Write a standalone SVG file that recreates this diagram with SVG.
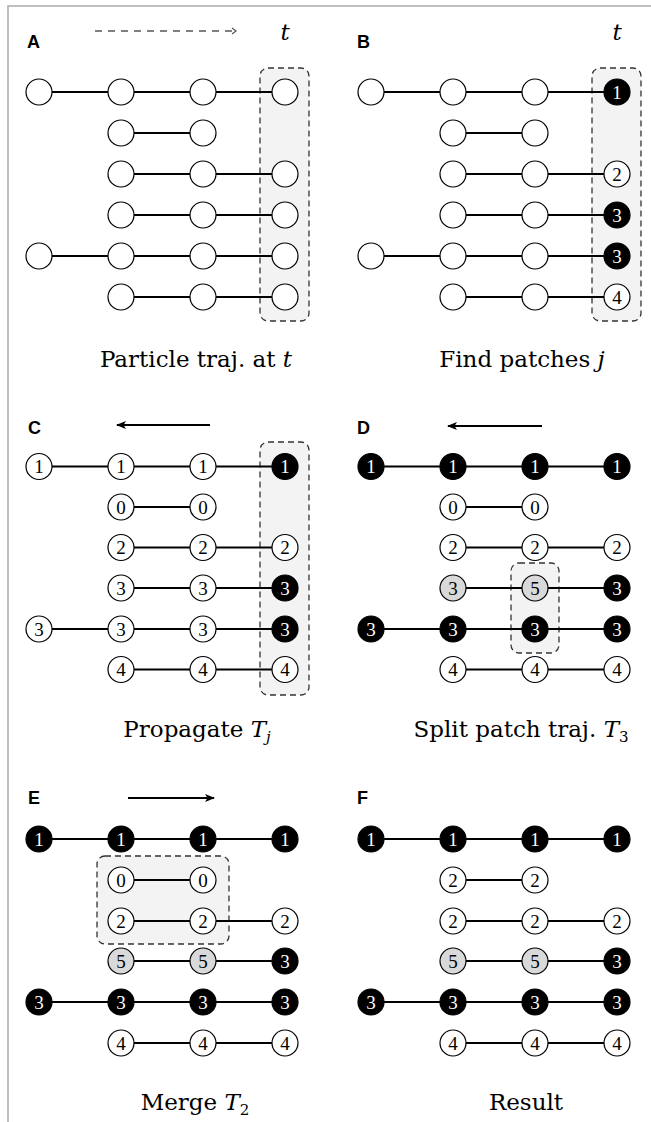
<svg xmlns="http://www.w3.org/2000/svg" width="651" height="1122" viewBox="0 0 651 1122">
  <style>
    .frame { fill: none; stroke: #aaaaaa; stroke-width: 1.5; }
    .panel-label { font-family: "Liberation Sans", Arial, sans-serif; font-weight: bold; font-size: 18px; fill: #000; }
    .caption { font-family: "DejaVu Serif", "Liberation Serif", serif; font-size: 23px; fill: #000; text-anchor: middle; }
    .math { font-style: italic; }
    .sub { font-size: 15px; }
    .hl { fill: #f3f3f3; stroke: #333; stroke-width: 1.3; stroke-dasharray: 6 4; }
    .edge { stroke: #000; stroke-width: 2; }
    .arrow { stroke: #000; stroke-width: 2; fill: none; }
    .time { stroke: #555; stroke-width: 1.5; stroke-dasharray: 7 6; fill: none; }
    .n circle { fill: #fff; stroke: #000; stroke-width: 1.2; }
    .n text { font-family: "Liberation Serif", "Times New Roman", serif; font-size: 19px; text-anchor: middle; fill: #000; }
    .b circle { fill: #000; }
    .b text { fill: #fff; }
    .g circle { fill: #d9d9d9; }
  </style>
  <defs>
    <marker id="head" viewBox="0 0 10 8" refX="9" refY="4" markerWidth="10" markerHeight="8" markerUnits="userSpaceOnUse" orient="auto">
      <path d="M0,0 L10,4 L0,8 L2.5,4 z" fill="#000"/>
    </marker>
    <marker id="chevron" viewBox="0 0 6 8" refX="5" refY="4" markerWidth="6" markerHeight="8" markerUnits="userSpaceOnUse" orient="auto">
      <path d="M1,1 L5,4 L1,7" fill="none" stroke="#555" stroke-width="1.2" stroke-dasharray="none"/>
    </marker>
  </defs>

  <path class="frame" d="M8,1122 V6 H651"/>

  <!-- panel letters -->
  <text class="panel-label" x="27" y="48">A</text>
  <text class="panel-label" x="357" y="48">B</text>
  <text class="panel-label" x="28" y="434">C</text>
  <text class="panel-label" x="357" y="434">D</text>
  <text class="panel-label" x="28" y="804">E</text>
  <text class="panel-label" x="357" y="804">F</text>

  <!-- time axis marks -->
  <text class="caption math" x="285" y="40" font-size="24">t</text>
  <text class="caption math" x="617" y="40" font-size="24">t</text>

  <!-- highlighted patches -->
  <g id="highlights">
    <rect class="hl" x="260" y="68" width="49" height="253" rx="8"/>
    <rect class="hl" x="592" y="68" width="49" height="253" rx="8"/>
    <rect class="hl" x="260" y="442" width="49" height="253" rx="8"/>
    <rect class="hl" x="511" y="563" width="48" height="90" rx="8"/>
    <rect class="hl" x="97" y="856" width="132" height="88" rx="8"/>
  </g>

  <!-- connectors -->
  <g id="connectors">
    <line class="time" x1="95" y1="31" x2="236" y2="31" marker-end="url(#chevron)"/>
    <line class="arrow" x1="210" y1="425" x2="117" y2="425" marker-end="url(#head)"/>
    <line class="arrow" x1="542" y1="426" x2="448" y2="426" marker-end="url(#head)"/>
    <line class="arrow" x1="128" y1="798" x2="214" y2="798" marker-end="url(#head)"/>

    <!-- A -->
    <line class="edge" x1="52" y1="92" x2="108" y2="92"/>
    <line class="edge" x1="134" y1="92" x2="190" y2="92"/>
    <line class="edge" x1="216" y1="92" x2="272" y2="92"/>
    <line class="edge" x1="134" y1="133" x2="190" y2="133"/>
    <line class="edge" x1="134" y1="174" x2="190" y2="174"/>
    <line class="edge" x1="216" y1="174" x2="272" y2="174"/>
    <line class="edge" x1="134" y1="215" x2="190" y2="215"/>
    <line class="edge" x1="216" y1="215" x2="272" y2="215"/>
    <line class="edge" x1="52" y1="256" x2="108" y2="256"/>
    <line class="edge" x1="134" y1="256" x2="190" y2="256"/>
    <line class="edge" x1="216" y1="256" x2="272" y2="256"/>
    <line class="edge" x1="134" y1="297" x2="190" y2="297"/>
    <line class="edge" x1="216" y1="297" x2="272" y2="297"/>
    <!-- B -->
    <line class="edge" x1="384" y1="92" x2="440" y2="92"/>
    <line class="edge" x1="466" y1="92" x2="522" y2="92"/>
    <line class="edge" x1="548" y1="92" x2="604" y2="92"/>
    <line class="edge" x1="466" y1="133" x2="522" y2="133"/>
    <line class="edge" x1="466" y1="174" x2="522" y2="174"/>
    <line class="edge" x1="548" y1="174" x2="604" y2="174"/>
    <line class="edge" x1="466" y1="215" x2="522" y2="215"/>
    <line class="edge" x1="548" y1="215" x2="604" y2="215"/>
    <line class="edge" x1="384" y1="256" x2="440" y2="256"/>
    <line class="edge" x1="466" y1="256" x2="522" y2="256"/>
    <line class="edge" x1="548" y1="256" x2="604" y2="256"/>
    <line class="edge" x1="466" y1="297" x2="522" y2="297"/>
    <line class="edge" x1="548" y1="297" x2="604" y2="297"/>
    <!-- C -->
    <line class="edge" x1="52" y1="466.5" x2="108" y2="466.5"/>
    <line class="edge" x1="134" y1="466.5" x2="190" y2="466.5"/>
    <line class="edge" x1="216" y1="466.5" x2="272" y2="466.5"/>
    <line class="edge" x1="134" y1="507" x2="190" y2="507"/>
    <line class="edge" x1="134" y1="547.5" x2="190" y2="547.5"/>
    <line class="edge" x1="216" y1="547.5" x2="272" y2="547.5"/>
    <line class="edge" x1="134" y1="588" x2="190" y2="588"/>
    <line class="edge" x1="216" y1="588" x2="272" y2="588"/>
    <line class="edge" x1="52" y1="629" x2="108" y2="629"/>
    <line class="edge" x1="134" y1="629" x2="190" y2="629"/>
    <line class="edge" x1="216" y1="629" x2="272" y2="629"/>
    <line class="edge" x1="134" y1="669.5" x2="190" y2="669.5"/>
    <line class="edge" x1="216" y1="669.5" x2="272" y2="669.5"/>
    <!-- D -->
    <line class="edge" x1="384" y1="466.5" x2="440" y2="466.5"/>
    <line class="edge" x1="466" y1="466.5" x2="522" y2="466.5"/>
    <line class="edge" x1="548" y1="466.5" x2="604" y2="466.5"/>
    <line class="edge" x1="466" y1="507" x2="522" y2="507"/>
    <line class="edge" x1="466" y1="547.5" x2="522" y2="547.5"/>
    <line class="edge" x1="548" y1="547.5" x2="604" y2="547.5"/>
    <line class="edge" x1="466" y1="588" x2="522" y2="588"/>
    <line class="edge" x1="548" y1="588" x2="604" y2="588"/>
    <line class="edge" x1="384" y1="629" x2="440" y2="629"/>
    <line class="edge" x1="466" y1="629" x2="522" y2="629"/>
    <line class="edge" x1="548" y1="629" x2="604" y2="629"/>
    <line class="edge" x1="466" y1="669.5" x2="522" y2="669.5"/>
    <line class="edge" x1="548" y1="669.5" x2="604" y2="669.5"/>
    <!-- E -->
    <line class="edge" x1="52" y1="839" x2="108" y2="839"/>
    <line class="edge" x1="134" y1="839" x2="190" y2="839"/>
    <line class="edge" x1="216" y1="839" x2="272" y2="839"/>
    <line class="edge" x1="134" y1="880" x2="190" y2="880"/>
    <line class="edge" x1="134" y1="921" x2="190" y2="921"/>
    <line class="edge" x1="216" y1="921" x2="272" y2="921"/>
    <line class="edge" x1="134" y1="961" x2="190" y2="961"/>
    <line class="edge" x1="216" y1="961" x2="272" y2="961"/>
    <line class="edge" x1="52" y1="1002" x2="108" y2="1002"/>
    <line class="edge" x1="134" y1="1002" x2="190" y2="1002"/>
    <line class="edge" x1="216" y1="1002" x2="272" y2="1002"/>
    <line class="edge" x1="134" y1="1043" x2="190" y2="1043"/>
    <line class="edge" x1="216" y1="1043" x2="272" y2="1043"/>
    <!-- F -->
    <line class="edge" x1="384" y1="839" x2="440" y2="839"/>
    <line class="edge" x1="466" y1="839" x2="522" y2="839"/>
    <line class="edge" x1="548" y1="839" x2="604" y2="839"/>
    <line class="edge" x1="466" y1="880" x2="522" y2="880"/>
    <line class="edge" x1="466" y1="921" x2="522" y2="921"/>
    <line class="edge" x1="548" y1="921" x2="604" y2="921"/>
    <line class="edge" x1="466" y1="961" x2="522" y2="961"/>
    <line class="edge" x1="548" y1="961" x2="604" y2="961"/>
    <line class="edge" x1="384" y1="1002" x2="440" y2="1002"/>
    <line class="edge" x1="466" y1="1002" x2="522" y2="1002"/>
    <line class="edge" x1="548" y1="1002" x2="604" y2="1002"/>
    <line class="edge" x1="466" y1="1043" x2="522" y2="1043"/>
    <line class="edge" x1="548" y1="1043" x2="604" y2="1043"/>
  </g>

  <!-- A: particle trajectories -->
  <g id="panel-A">
    <g id="A-r0-c0" class="n"><circle cx="39" cy="92" r="13"/></g>
    <g id="A-r0-c1" class="n"><circle cx="121" cy="92" r="13"/></g>
    <g id="A-r0-c2" class="n"><circle cx="203" cy="92" r="13"/></g>
    <g id="A-r0-c3" class="n"><circle cx="285" cy="92" r="13"/></g>
    <g id="A-r1-c1" class="n"><circle cx="121" cy="133" r="13"/></g>
    <g id="A-r1-c2" class="n"><circle cx="203" cy="133" r="13"/></g>
    <g id="A-r2-c1" class="n"><circle cx="121" cy="174" r="13"/></g>
    <g id="A-r2-c2" class="n"><circle cx="203" cy="174" r="13"/></g>
    <g id="A-r2-c3" class="n"><circle cx="285" cy="174" r="13"/></g>
    <g id="A-r3-c1" class="n"><circle cx="121" cy="215" r="13"/></g>
    <g id="A-r3-c2" class="n"><circle cx="203" cy="215" r="13"/></g>
    <g id="A-r3-c3" class="n"><circle cx="285" cy="215" r="13"/></g>
    <g id="A-r4-c0" class="n"><circle cx="39" cy="256" r="13"/></g>
    <g id="A-r4-c1" class="n"><circle cx="121" cy="256" r="13"/></g>
    <g id="A-r4-c2" class="n"><circle cx="203" cy="256" r="13"/></g>
    <g id="A-r4-c3" class="n"><circle cx="285" cy="256" r="13"/></g>
    <g id="A-r5-c1" class="n"><circle cx="121" cy="297" r="13"/></g>
    <g id="A-r5-c2" class="n"><circle cx="203" cy="297" r="13"/></g>
    <g id="A-r5-c3" class="n"><circle cx="285" cy="297" r="13"/></g>
  </g>

  <!-- B: patches at time t -->
  <g id="panel-B">
    <g id="B-r0-c0" class="n"><circle cx="371" cy="92" r="13"/></g>
    <g id="B-r0-c1" class="n"><circle cx="453" cy="92" r="13"/></g>
    <g id="B-r0-c2" class="n"><circle cx="535" cy="92" r="13"/></g>
    <g id="B-r0-c3" class="n b"><circle cx="617" cy="92" r="13"/><text x="617" y="98.5">1</text></g>
    <g id="B-r1-c1" class="n"><circle cx="453" cy="133" r="13"/></g>
    <g id="B-r1-c2" class="n"><circle cx="535" cy="133" r="13"/></g>
    <g id="B-r2-c1" class="n"><circle cx="453" cy="174" r="13"/></g>
    <g id="B-r2-c2" class="n"><circle cx="535" cy="174" r="13"/></g>
    <g id="B-r2-c3" class="n"><circle cx="617" cy="174" r="13"/><text x="617" y="180.5">2</text></g>
    <g id="B-r3-c1" class="n"><circle cx="453" cy="215" r="13"/></g>
    <g id="B-r3-c2" class="n"><circle cx="535" cy="215" r="13"/></g>
    <g id="B-r3-c3" class="n b"><circle cx="617" cy="215" r="13"/><text x="617" y="221.5">3</text></g>
    <g id="B-r4-c0" class="n"><circle cx="371" cy="256" r="13"/></g>
    <g id="B-r4-c1" class="n"><circle cx="453" cy="256" r="13"/></g>
    <g id="B-r4-c2" class="n"><circle cx="535" cy="256" r="13"/></g>
    <g id="B-r4-c3" class="n b"><circle cx="617" cy="256" r="13"/><text x="617" y="262.5">3</text></g>
    <g id="B-r5-c1" class="n"><circle cx="453" cy="297" r="13"/></g>
    <g id="B-r5-c2" class="n"><circle cx="535" cy="297" r="13"/></g>
    <g id="B-r5-c3" class="n"><circle cx="617" cy="297" r="13"/><text x="617" y="303.5">4</text></g>
  </g>

  <!-- C: propagate patch labels backwards -->
  <g id="panel-C">
    <g id="C-r0-c0" class="n"><circle cx="39" cy="466.5" r="13"/><text x="39" y="473">1</text></g>
    <g id="C-r0-c1" class="n"><circle cx="121" cy="466.5" r="13"/><text x="121" y="473">1</text></g>
    <g id="C-r0-c2" class="n"><circle cx="203" cy="466.5" r="13"/><text x="203" y="473">1</text></g>
    <g id="C-r0-c3" class="n b"><circle cx="285" cy="466.5" r="13"/><text x="285" y="473">1</text></g>
    <g id="C-r1-c1" class="n"><circle cx="121" cy="507" r="13"/><text x="121" y="513.5">0</text></g>
    <g id="C-r1-c2" class="n"><circle cx="203" cy="507" r="13"/><text x="203" y="513.5">0</text></g>
    <g id="C-r2-c1" class="n"><circle cx="121" cy="547.5" r="13"/><text x="121" y="554">2</text></g>
    <g id="C-r2-c2" class="n"><circle cx="203" cy="547.5" r="13"/><text x="203" y="554">2</text></g>
    <g id="C-r2-c3" class="n"><circle cx="285" cy="547.5" r="13"/><text x="285" y="554">2</text></g>
    <g id="C-r3-c1" class="n"><circle cx="121" cy="588" r="13"/><text x="121" y="594.5">3</text></g>
    <g id="C-r3-c2" class="n"><circle cx="203" cy="588" r="13"/><text x="203" y="594.5">3</text></g>
    <g id="C-r3-c3" class="n b"><circle cx="285" cy="588" r="13"/><text x="285" y="594.5">3</text></g>
    <g id="C-r4-c0" class="n"><circle cx="39" cy="629" r="13"/><text x="39" y="635.5">3</text></g>
    <g id="C-r4-c1" class="n"><circle cx="121" cy="629" r="13"/><text x="121" y="635.5">3</text></g>
    <g id="C-r4-c2" class="n"><circle cx="203" cy="629" r="13"/><text x="203" y="635.5">3</text></g>
    <g id="C-r4-c3" class="n b"><circle cx="285" cy="629" r="13"/><text x="285" y="635.5">3</text></g>
    <g id="C-r5-c1" class="n"><circle cx="121" cy="669.5" r="13"/><text x="121" y="676">4</text></g>
    <g id="C-r5-c2" class="n"><circle cx="203" cy="669.5" r="13"/><text x="203" y="676">4</text></g>
    <g id="C-r5-c3" class="n"><circle cx="285" cy="669.5" r="13"/><text x="285" y="676">4</text></g>
  </g>

  <!-- D: split patch trajectory -->
  <g id="panel-D">
    <g id="D-r0-c0" class="n b"><circle cx="371" cy="466.5" r="13"/><text x="371" y="473">1</text></g>
    <g id="D-r0-c1" class="n b"><circle cx="453" cy="466.5" r="13"/><text x="453" y="473">1</text></g>
    <g id="D-r0-c2" class="n b"><circle cx="535" cy="466.5" r="13"/><text x="535" y="473">1</text></g>
    <g id="D-r0-c3" class="n b"><circle cx="617" cy="466.5" r="13"/><text x="617" y="473">1</text></g>
    <g id="D-r1-c1" class="n"><circle cx="453" cy="507" r="13"/><text x="453" y="513.5">0</text></g>
    <g id="D-r1-c2" class="n"><circle cx="535" cy="507" r="13"/><text x="535" y="513.5">0</text></g>
    <g id="D-r2-c1" class="n"><circle cx="453" cy="547.5" r="13"/><text x="453" y="554">2</text></g>
    <g id="D-r2-c2" class="n"><circle cx="535" cy="547.5" r="13"/><text x="535" y="554">2</text></g>
    <g id="D-r2-c3" class="n"><circle cx="617" cy="547.5" r="13"/><text x="617" y="554">2</text></g>
    <g id="D-r3-c1" class="n g"><circle cx="453" cy="588" r="13"/><text x="453" y="594.5">3</text></g>
    <g id="D-r3-c2" class="n g"><circle cx="535" cy="588" r="13"/><text x="535" y="594.5">5</text></g>
    <g id="D-r3-c3" class="n b"><circle cx="617" cy="588" r="13"/><text x="617" y="594.5">3</text></g>
    <g id="D-r4-c0" class="n b"><circle cx="371" cy="629" r="13"/><text x="371" y="635.5">3</text></g>
    <g id="D-r4-c1" class="n b"><circle cx="453" cy="629" r="13"/><text x="453" y="635.5">3</text></g>
    <g id="D-r4-c2" class="n b"><circle cx="535" cy="629" r="13"/><text x="535" y="635.5">3</text></g>
    <g id="D-r4-c3" class="n b"><circle cx="617" cy="629" r="13"/><text x="617" y="635.5">3</text></g>
    <g id="D-r5-c1" class="n"><circle cx="453" cy="669.5" r="13"/><text x="453" y="676">4</text></g>
    <g id="D-r5-c2" class="n"><circle cx="535" cy="669.5" r="13"/><text x="535" y="676">4</text></g>
    <g id="D-r5-c3" class="n"><circle cx="617" cy="669.5" r="13"/><text x="617" y="676">4</text></g>
  </g>

  <!-- E: merge T2 forward -->
  <g id="panel-E">
    <g id="E-r0-c0" class="n b"><circle cx="39" cy="839" r="13"/><text x="39" y="845.5">1</text></g>
    <g id="E-r0-c1" class="n b"><circle cx="121" cy="839" r="13"/><text x="121" y="845.5">1</text></g>
    <g id="E-r0-c2" class="n b"><circle cx="203" cy="839" r="13"/><text x="203" y="845.5">1</text></g>
    <g id="E-r0-c3" class="n b"><circle cx="285" cy="839" r="13"/><text x="285" y="845.5">1</text></g>
    <g id="E-r1-c1" class="n"><circle cx="121" cy="880" r="13"/><text x="121" y="886.5">0</text></g>
    <g id="E-r1-c2" class="n"><circle cx="203" cy="880" r="13"/><text x="203" y="886.5">0</text></g>
    <g id="E-r2-c1" class="n"><circle cx="121" cy="921" r="13"/><text x="121" y="927.5">2</text></g>
    <g id="E-r2-c2" class="n"><circle cx="203" cy="921" r="13"/><text x="203" y="927.5">2</text></g>
    <g id="E-r2-c3" class="n"><circle cx="285" cy="921" r="13"/><text x="285" y="927.5">2</text></g>
    <g id="E-r3-c1" class="n g"><circle cx="121" cy="961" r="13"/><text x="121" y="967.5">5</text></g>
    <g id="E-r3-c2" class="n g"><circle cx="203" cy="961" r="13"/><text x="203" y="967.5">5</text></g>
    <g id="E-r3-c3" class="n b"><circle cx="285" cy="961" r="13"/><text x="285" y="967.5">3</text></g>
    <g id="E-r4-c0" class="n b"><circle cx="39" cy="1002" r="13"/><text x="39" y="1008.5">3</text></g>
    <g id="E-r4-c1" class="n b"><circle cx="121" cy="1002" r="13"/><text x="121" y="1008.5">3</text></g>
    <g id="E-r4-c2" class="n b"><circle cx="203" cy="1002" r="13"/><text x="203" y="1008.5">3</text></g>
    <g id="E-r4-c3" class="n b"><circle cx="285" cy="1002" r="13"/><text x="285" y="1008.5">3</text></g>
    <g id="E-r5-c1" class="n"><circle cx="121" cy="1043" r="13"/><text x="121" y="1049.5">4</text></g>
    <g id="E-r5-c2" class="n"><circle cx="203" cy="1043" r="13"/><text x="203" y="1049.5">4</text></g>
    <g id="E-r5-c3" class="n"><circle cx="285" cy="1043" r="13"/><text x="285" y="1049.5">4</text></g>
  </g>

  <!-- F: result -->
  <g id="panel-F">
    <g id="F-r0-c0" class="n b"><circle cx="371" cy="839" r="13"/><text x="371" y="845.5">1</text></g>
    <g id="F-r0-c1" class="n b"><circle cx="453" cy="839" r="13"/><text x="453" y="845.5">1</text></g>
    <g id="F-r0-c2" class="n b"><circle cx="535" cy="839" r="13"/><text x="535" y="845.5">1</text></g>
    <g id="F-r0-c3" class="n b"><circle cx="617" cy="839" r="13"/><text x="617" y="845.5">1</text></g>
    <g id="F-r1-c1" class="n"><circle cx="453" cy="880" r="13"/><text x="453" y="886.5">2</text></g>
    <g id="F-r1-c2" class="n"><circle cx="535" cy="880" r="13"/><text x="535" y="886.5">2</text></g>
    <g id="F-r2-c1" class="n"><circle cx="453" cy="921" r="13"/><text x="453" y="927.5">2</text></g>
    <g id="F-r2-c2" class="n"><circle cx="535" cy="921" r="13"/><text x="535" y="927.5">2</text></g>
    <g id="F-r2-c3" class="n"><circle cx="617" cy="921" r="13"/><text x="617" y="927.5">2</text></g>
    <g id="F-r3-c1" class="n g"><circle cx="453" cy="961" r="13"/><text x="453" y="967.5">5</text></g>
    <g id="F-r3-c2" class="n g"><circle cx="535" cy="961" r="13"/><text x="535" y="967.5">5</text></g>
    <g id="F-r3-c3" class="n b"><circle cx="617" cy="961" r="13"/><text x="617" y="967.5">3</text></g>
    <g id="F-r4-c0" class="n b"><circle cx="371" cy="1002" r="13"/><text x="371" y="1008.5">3</text></g>
    <g id="F-r4-c1" class="n b"><circle cx="453" cy="1002" r="13"/><text x="453" y="1008.5">3</text></g>
    <g id="F-r4-c2" class="n b"><circle cx="535" cy="1002" r="13"/><text x="535" y="1008.5">3</text></g>
    <g id="F-r4-c3" class="n b"><circle cx="617" cy="1002" r="13"/><text x="617" y="1008.5">3</text></g>
    <g id="F-r5-c1" class="n"><circle cx="453" cy="1043" r="13"/><text x="453" y="1049.5">4</text></g>
    <g id="F-r5-c2" class="n"><circle cx="535" cy="1043" r="13"/><text x="535" y="1049.5">4</text></g>
    <g id="F-r5-c3" class="n"><circle cx="617" cy="1043" r="13"/><text x="617" y="1049.5">4</text></g>
  </g>

  <!-- captions -->
  <text class="caption" x="196" y="367">Particle traj. at <tspan class="math">t</tspan></text>
  <text class="caption" x="522" y="367">Find patches <tspan class="math">j</tspan></text>
  <text class="caption" x="197" y="737">Propagate <tspan class="math">T</tspan><tspan class="math sub" dy="5">j</tspan></text>
  <text class="caption" x="521" y="737">Split patch traj. <tspan class="math">T</tspan><tspan class="sub" dy="5">3</tspan></text>
  <text class="caption" x="195" y="1110">Merge <tspan class="math">T</tspan><tspan class="sub" dy="5">2</tspan></text>
  <text class="caption" x="526" y="1110">Result</text>
</svg>
